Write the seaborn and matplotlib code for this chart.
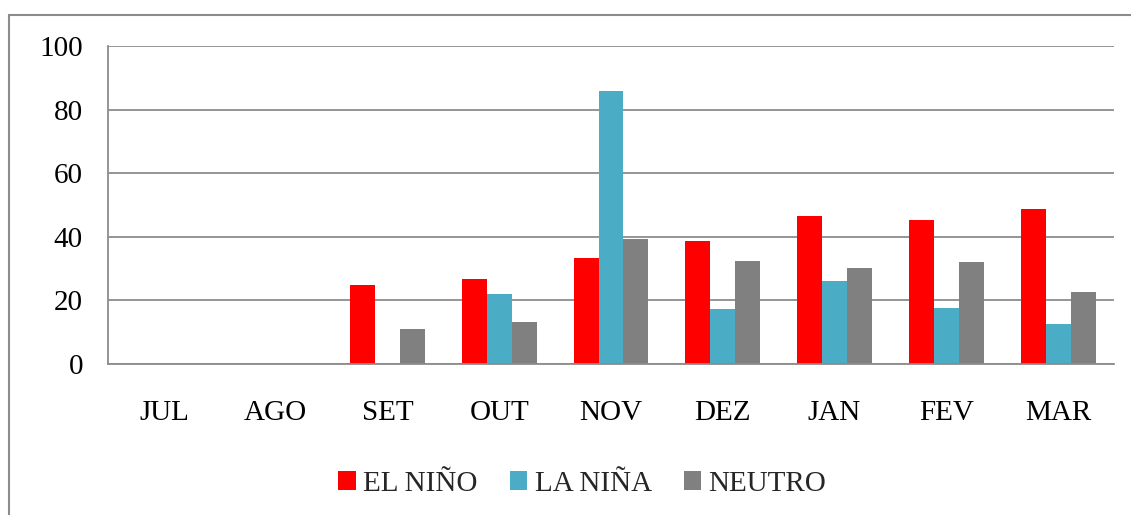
import numpy as np
import pandas as pd
import matplotlib
matplotlib.use("Agg")
import matplotlib.pyplot as plt
import seaborn as sns
from matplotlib.patches import Rectangle, Patch
from matplotlib.ticker import MultipleLocator

# Data
months = ["JUL", "AGO", "SET", "OUT", "NOV", "DEZ", "JAN", "FEV", "MAR"]
el_nino = [0, 0, 24.9, 26.8, 33.4, 38.7, 46.6, 45.3, 48.8]
la_nina = [0, 0, 0, 22.1, 85.8, 17.4, 26.2, 17.7, 12.7]
neutro = [0, 0, 11.1, 13.3, 39.4, 32.5, 30.3, 32.2, 22.7]
series = ["EL NIÑO", "LA NIÑA", "NEUTRO"]
colors = ["#FF0000", "#4BACC6", "#808080"]

df = pd.DataFrame({
    "Mes": months * 3,
    "Valor": el_nino + la_nina + neutro,
    "Serie": [s for s in series for _ in months],
})

sns.set_theme(style="white")
plt.rcParams["font.family"] = ["Liberation Serif", "DejaVu Serif"]
grid_col = "#8c8c8c"

fig = plt.figure(figsize=(11.31, 5.15), dpi=100)
ax = fig.add_axes([108 / 1131, 1 - 364 / 515, (1114 - 108) / 1131, (364 - 46) / 515])

sns.barplot(data=df, x="Mes", y="Valor", hue="Serie", order=months,
            hue_order=series, palette=colors, width=0.67, gap=0,
            saturation=1, linewidth=0, ax=ax, legend=False)

ax.set_xlim(-0.5, len(months) - 0.5)
ax.set_ylim(0, 100)
ax.yaxis.set_major_locator(MultipleLocator(20))
ax.grid(axis="y", color=grid_col, linewidth=1.3)
ax.set_axisbelow(True)
ax.set_xlabel("")
ax.set_ylabel("")

for side in ["top", "right"]:
    ax.spines[side].set_visible(False)
for side in ["left", "bottom"]:
    ax.spines[side].set_color(grid_col)
    ax.spines[side].set_linewidth(1.3)

# category boundary ticks on x, outward ticks on y
ax.set_xticks(np.arange(-0.5, len(months)), minor=True)
ax.tick_params(axis="x", which="minor", length=7, width=1.3, color=grid_col, direction="out")
ax.tick_params(axis="x", which="major", length=0, pad=26, labelsize=21)
ax.tick_params(axis="y", length=6, width=1.3, color=grid_col, direction="out", pad=12, labelsize=21)
ax.tick_params(axis="both", labelcolor="black")

# legend below the plot
handles = [Patch(facecolor=c, edgecolor="none") for c in colors]
fig.legend(handles, series, loc="center", bbox_to_anchor=(0.515, 1 - 484 / 515),
           ncol=3, frameon=False, fontsize=21, handlelength=0.6, handleheight=0.6,
           handletextpad=0.25, columnspacing=1.1)

# outer chart border
fig.patches.append(Rectangle((9 / 1131, -0.05), 1.1, 1 - 15 / 515 + 0.05,
                             transform=fig.transFigure, fill=False,
                             edgecolor=grid_col, linewidth=1.5))

fig.savefig("out.png", dpi=100)
